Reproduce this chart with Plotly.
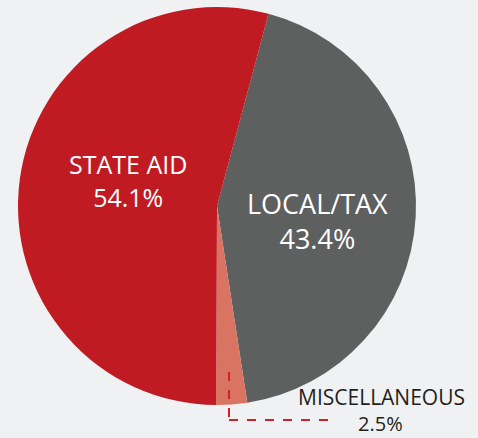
import plotly.graph_objects as go

categories = ["LOCAL/TAX", "MISCELLANEOUS", "STATE AID"]
values = [43.4, 2.5, 54.1]
colors = ["#5E5F5F", "#D97463", "#C01B22"]

W, H = 478, 438
cx, cy, r = 217, 206, 199

fig = go.Figure(go.Pie(
    labels=categories, values=values, sort=False, direction="clockwise",
    rotation=15, marker=dict(colors=colors, line=dict(width=0)),
    textinfo="none", hoverinfo="label+percent", showlegend=False,
    domain=dict(x=[(cx - r) / W, (cx + r) / W], y=[1 - (cy + r) / H, 1 - (cy - r) / H]),
))

font = "Open Sans, Lato, sans-serif"
def px(x): return x / W
def py(y): return 1 - y / H

ann = [
    (categories[2], values[2], 128, 181, "white", 25),
    (categories[0], values[0], 317, 221, "white", 27),
]
for name, v, x, y, col, sz in ann:
    fig.add_annotation(x=px(x), y=py(y), xref="paper", yref="paper", showarrow=False,
                       xanchor="center", yanchor="middle",
                       text=f"{name}<br>{v:.1f}%", font=dict(family=font, size=sz, color=col),
                       align="center")
fig.add_annotation(x=px(381), y=py(397), xref="paper", yref="paper", showarrow=False,
                   xanchor="center", yanchor="middle", borderpad=0,
                   text=categories[1], font=dict(family=font, size=21, color="#231F20"))
fig.add_annotation(x=px(380), y=py(423), xref="paper", yref="paper", showarrow=False,
                   xanchor="center", yanchor="middle", borderpad=0,
                   text=f"{values[1]:.1f}%", font=dict(family=font, size=20, color="#231F20"))

line = dict(color="#D0202A", width=2, dash="dash")
fig.add_shape(type="line", xref="paper", yref="paper", x0=px(229), y0=py(372), x1=px(229), y1=py(420), line=line)
fig.add_shape(type="line", xref="paper", yref="paper", x0=px(229), y0=py(420), x1=px(328), y1=py(420), line=line)

fig.update_layout(width=W, height=H, margin=dict(l=0, r=0, t=0, b=0),
                  paper_bgcolor="#F0F1F3", plot_bgcolor="#F0F1F3")
fig.write_html("out.html")
